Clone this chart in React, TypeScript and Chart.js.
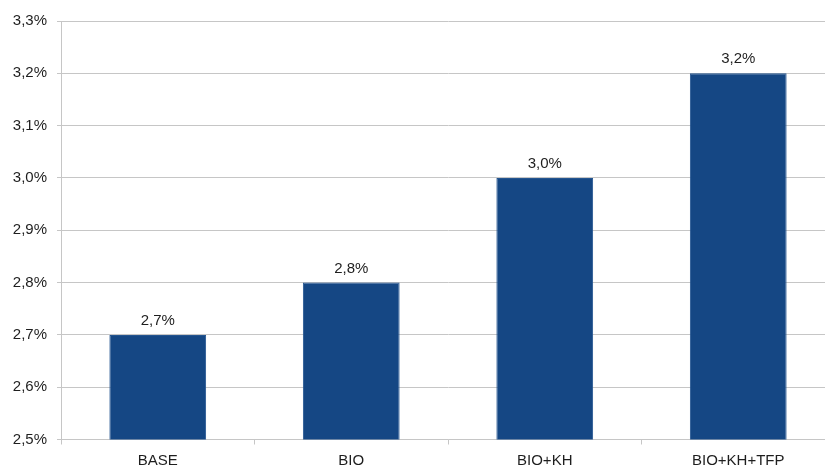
import React, { useEffect, useRef } from "react";
import { Chart, registerables } from "chart.js";

Chart.register(...registerables);

const categories = ["BASE", "BIO", "BIO+KH", "BIO+KH+TFP"];
const growthRates = [2.7, 2.8, 3.0, 3.2];
const yMin = 2.5;
const yMax = 3.3;
const yStep = 0.1;

const fmtPct = (v: number) => v.toFixed(1).replace(".", ",") + "%";

const FONT = "'Liberation Sans', Arial, Helvetica, sans-serif";
const TEXT = "#1e1e1e";
const GRID = "#c6c6c6";

const valueLabels = {
  id: "valueLabels",
  afterDatasetsDraw(chart: Chart) {
    const ctx = chart.ctx;
    const meta = chart.getDatasetMeta(0);
    ctx.save();
    ctx.font = `15px ${FONT}`;
    ctx.fillStyle = TEXT;
    ctx.textAlign = "center";
    ctx.textBaseline = "alphabetic";
    meta.data.forEach((el: any, i: number) => {
      ctx.fillText(fmtPct(growthRates[i]), el.x, el.y - 10);
    });
    ctx.restore();
  },
};

export default function App() {
  const ref = useRef<HTMLCanvasElement>(null);

  useEffect(() => {
    if (!ref.current) return;
    const chart = new Chart(ref.current, {
      type: "bar",
      data: {
        labels: categories,
        datasets: [
          {
            data: growthRates,
            backgroundColor: "#154784",
            borderColor: "#245590",
            borderWidth: 1,
            categoryPercentage: 1,
            barPercentage: 0.5,
          },
        ],
      },
      options: {
        responsive: false,
        animation: false,
        devicePixelRatio: 1,
        layout: { padding: { top: 21, right: 0, left: 0, bottom: 0 } },
        plugins: {
          legend: { display: false },
          tooltip: { enabled: false },
        },
        scales: {
          x: {
            afterFit: (s: any) => {
              s.height = 28.5;
            },
            grid: {
              offset: true,
              drawOnChartArea: false,
              drawTicks: true,
              tickLength: 5,
              color: GRID,
            },
            border: { color: GRID },
            ticks: {
              color: TEXT,
              font: { family: FONT, size: 15 },
              padding: 7,
              maxRotation: 0,
            },
          },
          y: {
            min: yMin,
            max: yMax,
            afterFit: (s: any) => {
              s.width = 61;
            },
            grid: { color: GRID, tickLength: 4 },
            border: { color: GRID },
            ticks: {
              stepSize: yStep,
              color: TEXT,
              font: { family: FONT, size: 15 },
              padding: 10,
              callback: (v: any) => fmtPct(Number(v)),
            },
          },
        },
      },
      plugins: [valueLabels],
    });
    return () => chart.destroy();
  }, []);

  return (
    <div
      style={{
        position: "fixed",
        left: 0,
        top: 0,
        width: 825,
        height: 468,
        overflow: "hidden",
        background: "#fff",
      }}
    >
      <canvas ref={ref} width={835} height={468} style={{ display: "block" }} />
    </div>
  );
}
